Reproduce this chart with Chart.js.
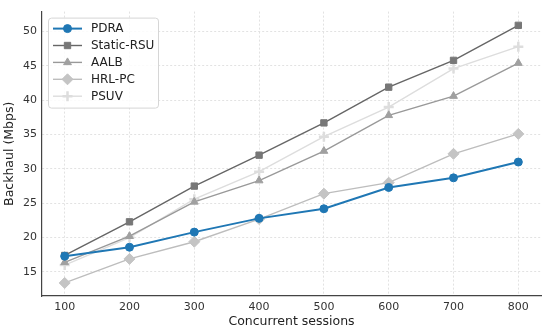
<!DOCTYPE html>
<html>
<head>
<meta charset="utf-8">
<script src="https://cdn.jsdelivr.net/npm/chart.js@4"></script>
<style>
  html, body { margin: 0; padding: 0; background: #fff; }
  #wrap { width: 550px; height: 333px; }
</style>
</head>
<body>
<div id="wrap"><canvas id="chart"></canvas></div>
<script>
// data
const sessions = [100, 200, 300, 400, 500, 600, 700, 800];
const yTicks = [15, 20, 25, 30, 35, 40, 45, 50];

const pdra = [17.3, 18.6, 20.8, 22.8, 24.2, 27.3, 28.7, 31.0];
const staticRsu = [17.4, 22.3, 27.5, 32.0, 36.7, 41.9, 45.8, 50.9];
const aalb = [16.4, 20.2, 25.2, 28.3, 32.6, 37.8, 40.6, 45.4];
const hrlPc = [13.4, 16.9, 19.4, 22.7, 26.4, 28.0, 32.2, 35.1];
const psuv = [16.0, 20.0, 25.6, 29.6, 34.7, 39.0, 44.6, 47.8];

const FONT = "'DejaVu Sans', sans-serif";

function pts(vals) {
    return vals.map((v, i) => ({ x: sessions[i], y: v }));
}

function series(label, vals, color, markerColor, style, radius, width) {
    return {
        label: label,
        data: pts(vals),
        borderColor: color,
        backgroundColor: markerColor,
        pointBackgroundColor: markerColor,
        pointBorderColor: markerColor,
        pointStyle: style,
        pointRadius: radius,
        pointBorderWidth: style === 'cross' ? 2.5 : 1,
        borderWidth: width,
        tension: 0
    };
}

// legend drawn inside the plot, upper left
const innerLegend = {
    id: 'innerLegend',
    afterDraw(chart) {
        const ctx = chart.ctx;
        const area = chart.chartArea;
        const x0 = area.left + 6, y0 = area.top + 6;
        const w = 110, h = 90;
        ctx.save();
        ctx.fillStyle = 'rgba(255,255,255,0.85)';
        ctx.strokeStyle = '#d6d6d6';
        ctx.lineWidth = 1;
        ctx.beginPath();
        ctx.roundRect(x0 + 0.5, y0 + 0.5, w, h, 3);
        ctx.fill();
        ctx.stroke();
        ctx.font = '12px ' + FONT;
        ctx.textBaseline = 'middle';
        chart.data.datasets.forEach((ds, i) => {
            const y = y0 + 11 + i * 16.9;
            ctx.strokeStyle = ds.borderColor;
            ctx.lineWidth = ds.borderWidth;
            ctx.beginPath();
            ctx.moveTo(x0 + 5, y);
            ctx.lineTo(x0 + 34, y);
            ctx.stroke();
            ctx.fillStyle = ds.pointBackgroundColor;
            ctx.strokeStyle = ds.pointBorderColor;
            ctx.lineWidth = ds.pointBorderWidth;
            Chart.helpers.drawPoint(ctx, {
                pointStyle: ds.pointStyle,
                radius: ds.pointRadius,
                borderWidth: ds.pointBorderWidth,
                rotation: 0
            }, x0 + 19.5, y);
            ctx.fillStyle = '#222';
            ctx.fillText(ds.label, x0 + 43, y + 0.5);
        });
        ctx.restore();
    }
};

new Chart(document.getElementById('chart'), {
    type: 'line',
    data: {
        datasets: [
            series('PDRA', pdra, '#1f77b4', '#1f77b4', 'circle', 4, 2),
            series('Static-RSU', staticRsu, '#666666', '#777777', 'rect', 4.5, 1.4),
            series('AALB', aalb, '#999999', '#a0a0a0', 'triangle', 4.5, 1.4),
            series('HRL-PC', hrlPc, '#bdbdbd', '#c4c4c4', 'rectRot', 5.5, 1.4),
            series('PSUV', psuv, '#dddddd', '#dddddd', 'cross', 5, 1.4)
        ]
    },
    options: {
        responsive: true,
        maintainAspectRatio: false,
        animation: false,
        layout: { padding: { top: 10, right: 9, bottom: 0, left: 0 } },
        plugins: { legend: { display: false }, tooltip: { enabled: false } },
        scales: {
            x: {
                type: 'linear',
                min: 65,
                max: 835,
                afterBuildTicks: axis => { axis.ticks = sessions.map(v => ({ value: v })); },
                afterFit: axis => { axis.height = 37; },
                ticks: { color: '#333', font: { family: FONT, size: 11 }, padding: 5, maxRotation: 0 },
                grid: { color: '#e2e2e2', tickLength: 0, drawTicks: false },
                border: { color: '#444', width: 1.2, dash: [2, 2] },
                title: { display: true, text: 'Concurrent sessions', color: '#222',
                         font: { family: FONT, size: 12.5 }, padding: { top: 0, bottom: 4 } }
            },
            y: {
                min: 11.5,
                max: 52.9,
                afterBuildTicks: axis => { axis.ticks = yTicks.map(v => ({ value: v })); },
                afterFit: axis => { axis.width = 42; },
                ticks: { color: '#333', font: { family: FONT, size: 11 }, padding: 5 },
                grid: { color: '#e2e2e2', tickLength: 0, drawTicks: false },
                border: { color: '#444', width: 1.2, dash: [2, 2] },
                title: { display: true, text: 'Backhaul (Mbps)', color: '#222',
                         font: { family: FONT, size: 12.5 }, padding: { top: 2, bottom: 0 } }
            }
        }
    },
    plugins: [innerLegend]
});
</script>
</body>
</html>
